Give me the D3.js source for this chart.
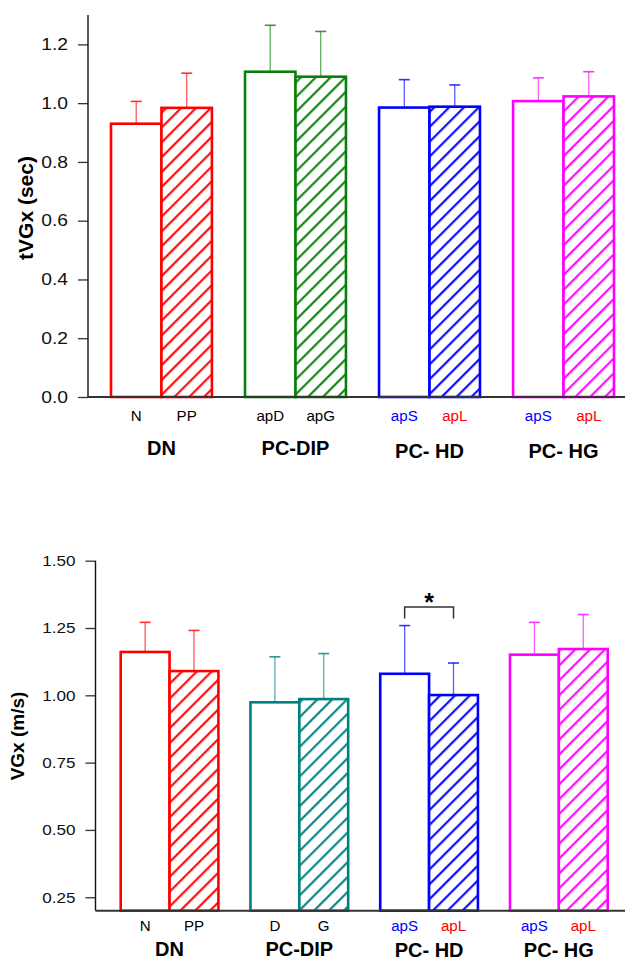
<!DOCTYPE html>
<html><head><meta charset="utf-8">
<script src="https://cdn.jsdelivr.net/npm/d3@7"></script>
<style>body{margin:0;background:#fff}svg{display:block;font-family:"Liberation Sans",Arial,Helvetica,sans-serif}</style>
</head><body>
<script>
// ---------- DATA ----------
const groups = ["DN", "PC-DIP", "PC- HD", "PC- HG"];
const topCategories = ["N", "PP", "apD", "apG", "apS", "apL", "apS", "apL"];
const bottomCategories = ["N", "PP", "D", "G", "apS", "apL", "apS", "apL"];
const topMeans = [0.930, 0.984, 1.107, 1.090, 0.985, 0.988, 1.007, 1.023];
const topErrors = [0.076, 0.118, 0.158, 0.154, 0.095, 0.074, 0.079, 0.084];
const bottomMeans = [1.161, 1.090, 0.974, 0.986, 1.080, 1.001, 1.151, 1.172];
const bottomErrors = [0.110, 0.151, 0.169, 0.169, 0.179, 0.119, 0.120, 0.128];
const topTicks = [0.0, 0.2, 0.4, 0.6, 0.8, 1.0, 1.2];
const bottomTicks = [0.25, 0.50, 0.75, 1.00, 1.25, 1.50];
const topDomain = [0, 1.3];
const bottomDomain = [0.2, 1.5];
const bottomSig = [{ a: 4, b: 5, level: 1.328, leg: 1.285, label: "*" }];

// ---------- STYLE ----------
const FONT = '"Liberation Sans", Arial, Helvetica, sans-serif';
const topColors = ["#ff0000", "#0a800a", "#0000ff", "#ff00ff"];
const bottomColors = ["#ff0000", "#008080", "#0000ff", "#ff00ff"];
const catLabelColors = ["#000", "#000", "#000", "#000", "#0000ff", "#ff0000", "#0000ff", "#ff0000"];

const W = 625, H = 960;
const svg = d3.select("body").append("svg").attr("width", W).attr("height", H)
  .style("font-family", FONT);
const defs = svg.append("defs");
const allColors = Array.from(new Set(topColors.concat(bottomColors)));
allColors.forEach((c, i) => {
  const p = defs.append("pattern").attr("id", "hatch" + i)
    .attr("patternUnits", "userSpaceOnUse").attr("width", 10.5).attr("height", 10.5)
    .attr("patternTransform", "rotate(45)");
  p.append("rect").attr("width", 10.5).attr("height", 10.5).attr("fill", "#fff");
  p.append("line").attr("x1", 5).attr("x2", 5).attr("y1", 0).attr("y2", 10.5)
    .attr("stroke", c).attr("stroke-width", 2.1);
});
const hatchId = c => "url(#hatch" + allColors.indexOf(c) + ")";

function stretch(sel, sx) {
  sel.each(function () {
    const t = d3.select(this);
    const x = +t.attr("x") || 0;
    t.attr("transform", `translate(${x},0) scale(${sx},1) translate(${-x},0)`);
  });
}

function panel(o) {
  const g = svg.append("g");
  const y = d3.scaleLinear().domain(o.domain).range([o.yBottom, o.yTop]);
  const x0 = d3.scaleBand().domain(groups).range([o.xStart, o.xEnd]).paddingInner(0.247).paddingOuter(0);
  const x1 = d3.scaleBand().domain([0, 1]).range([0, x0.bandwidth()]).padding(0);
  const bx = i => x0(groups[Math.floor(i / 2)]) + x1(i % 2);
  const bw = x1.bandwidth();

  // y axis
  const ay = g.append("g").attr("transform", `translate(${o.axisX},0)`)
    .call(d3.axisLeft(y).tickValues(o.ticks).tickFormat(o.fmt).tickSize(10).tickPadding(10));
  ay.attr("font-family", null).attr("font-size", null);
  ay.select(".domain").remove();
  ay.selectAll(".tick line").attr("stroke", "#333").attr("stroke-width", 1.3);
  ay.selectAll(".tick text").attr("fill", "#111").style("font-size", o.tickFont + "px").style("font-family", FONT);
  stretch(ay.selectAll(".tick text"), o.tickStretch);
  g.append("line").attr("x1", o.axisX).attr("x2", o.axisX).attr("y1", o.yTop).attr("y2", o.yBottom)
    .attr("stroke", "#111").attr("stroke-width", 1.4);

  // error bars
  const eg = g.append("g");
  o.means.forEach((m, i) => {
    const c = o.colors[Math.floor(i / 2)];
    const cx = bx(i) + bw / 2;
    eg.append("line").attr("x1", cx).attr("x2", cx).attr("y1", y(m)).attr("y2", y(m + o.errors[i]))
      .attr("stroke", c).attr("stroke-width", 1.3).attr("stroke-opacity", 0.65);
    eg.append("line").attr("x1", cx - 5.5).attr("x2", cx + 5.5).attr("y1", y(m + o.errors[i])).attr("y2", y(m + o.errors[i]))
      .attr("stroke", c).attr("stroke-width", 1.6).attr("stroke-opacity", 0.8);
  });

  // bars
  g.append("g").selectAll("rect").data(o.means).join("rect")
    .attr("x", (d, i) => bx(i)).attr("width", bw)
    .attr("y", d => y(d)).attr("height", d => o.yBottom - y(d))
    .attr("fill", (d, i) => i % 2 ? hatchId(o.colors[Math.floor(i / 2)]) : "#fff")
    .attr("stroke", (d, i) => o.colors[Math.floor(i / 2)]).attr("stroke-width", 2.6);

  // x axis line
  g.append("line").attr("x1", o.axisX).attr("x2", W).attr("y1", o.yBottom).attr("y2", o.yBottom)
    .attr("stroke", "#333").attr("stroke-width", 2);

  // category labels
  const cl = g.append("g").selectAll("text").data(o.cats).join("text")
    .attr("x", (d, i) => bx(i) + bw / 2).attr("y", o.catY)
    .attr("text-anchor", "middle").style("font-size", "14px")
    .attr("fill", (d, i) => catLabelColors[i]).text(d => d);
  stretch(cl, 1.08);

  // group labels
  g.append("g").selectAll("text").data(groups).join("text")
    .attr("x", d => x0(d) + x0.bandwidth() / 2)
    .attr("y", (d, i) => o.groupY + (i >= 2 ? o.groupShift : 0))
    .attr("text-anchor", "middle").style("font-size", "20px").style("font-weight", "bold")
    .attr("fill", "#000").text(d => d);

  // y title
  g.append("text").attr("transform", `translate(${o.titleX},${o.titleY}) rotate(-90)`)
    .attr("text-anchor", "middle").style("font-size", o.titleFont + "px").style("font-weight", "bold")
    .text(o.title);

  // significance
  (o.sig || []).forEach(s => {
    const xa = bx(s.a) + bw / 2, xb = bx(s.b) + bw / 2;
    g.append("path").attr("d", `M${xa},${y(s.leg)}V${y(s.level)}H${xb}V${y(s.leg)}`)
      .attr("fill", "none").attr("stroke", "#333").attr("stroke-width", 1.5);
    g.append("text").attr("x", (xa + xb) / 2).attr("y", y(s.level) + 4)
      .attr("text-anchor", "middle").style("font-size", "25px").style("font-weight", "bold").text(s.label);
  });
}

panel({
  domain: topDomain, yTop: 15, yBottom: 397, xStart: 111, xEnd: 614, axisX: 88,
  ticks: topTicks, fmt: d3.format(".1f"), tickFont: 16.5, tickStretch: 1.17,
  means: topMeans, errors: topErrors, colors: topColors, cats: topCategories,
  catY: 421.5, groupY: 455, groupShift: 2.5,
  title: "tVGx (sec)", titleX: 33, titleY: 208, titleFont: 21
});

panel({
  domain: bottomDomain, yTop: 560.7, yBottom: 910.7, xStart: 120.7, xEnd: 607.7, axisX: 95.5,
  ticks: bottomTicks, fmt: d3.format(".2f"), tickFont: 15, tickStretch: 1.14,
  means: bottomMeans, errors: bottomErrors, colors: bottomColors, cats: bottomCategories,
  catY: 931.5, groupY: 955.5, groupShift: 1.5,
  title: "VGx (m/s)", titleX: 23.5, titleY: 736, titleFont: 19,
  sig: bottomSig
});
</script>
</body></html>
